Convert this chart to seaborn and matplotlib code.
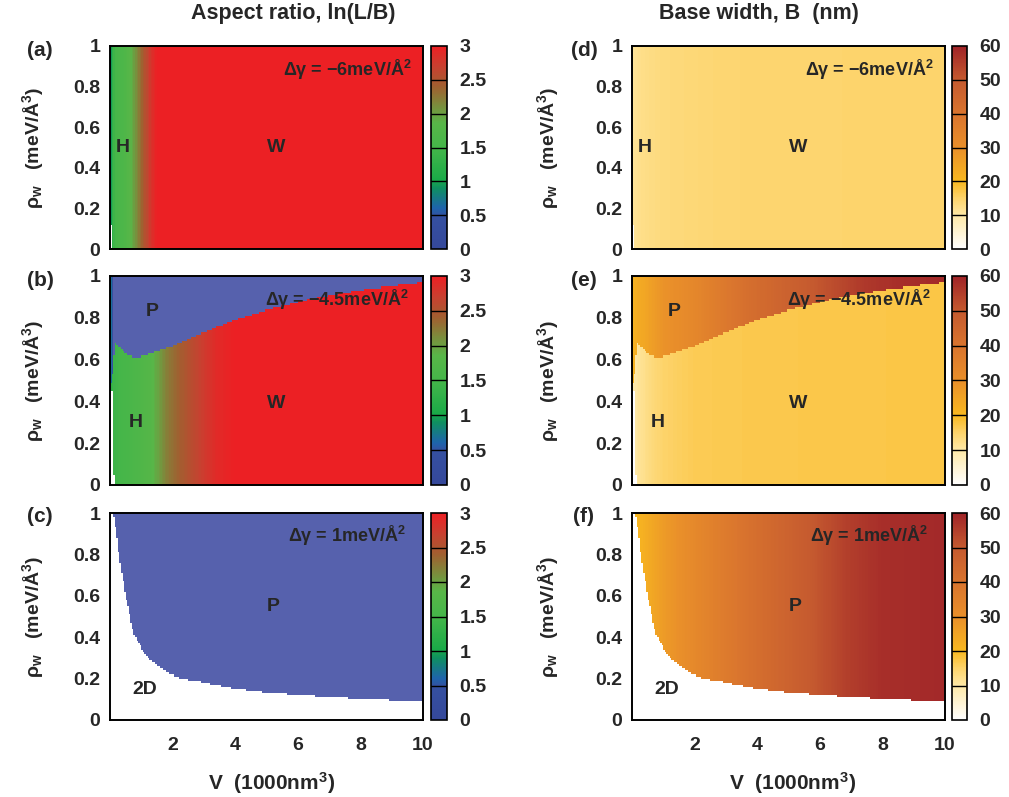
import numpy as np
import pandas as pd
import matplotlib
matplotlib.use("Agg")
import matplotlib.pyplot as plt
import seaborn as sns
from matplotlib.colors import LinearSegmentedColormap

sns.set_style("white")
plt.rcParams["font.family"] = ["Liberation Sans", "DejaVu Sans"]
plt.rcParams["font.weight"] = "bold"
plt.rcParams["mathtext.fontset"] = "custom"
plt.rcParams["mathtext.rm"] = "Liberation Sans"
plt.rcParams["mathtext.it"] = "Liberation Sans"
plt.rcParams["mathtext.bf"] = "Liberation Sans:bold"

# ---------------- data ----------------
# (a) aspect ratio vs V, dgamma = -6
V_A = [0.0, 0.05, 0.15, 0.3, 0.5, 0.7, 0.9, 1.1, 1.3, 1.5, 10.0]
AR_A = [0.7, 1.2, 1.5, 1.6, 1.7, 1.9, 2.2, 2.5, 2.8, 3.0, 3.0]
# (b) aspect ratio (H/W region) vs V, dgamma = -4.5
V_B = [0.0, 0.1, 0.3, 0.7, 1.0, 1.3, 1.8, 2.3, 2.9, 3.4, 4.0, 10.0]
AR_B = [1.2, 1.4, 1.5, 1.6, 1.7, 1.8, 2.2, 2.45, 2.7, 2.9, 3.0, 3.0]
# P-region boundary for dgamma = -4.5 (P above)
V_PB = [0.0, 0.1, 0.15, 0.3, 0.5, 0.75, 1.0, 1.5, 2.0, 3.0, 4.0, 5.0, 6.0, 7.0, 8.0, 9.0, 10.0]
RHO_PB = [0.47, 0.55, 0.68, 0.66, 0.63, 0.61, 0.615, 0.64, 0.665, 0.73, 0.79, 0.837, 0.875, 0.907, 0.933, 0.952, 0.968]
# aspect ratio inside P region near V=0 (else P value is 0)
V_PLEFT = [0.0, 0.1, 0.15]
AR_PLEFT = [0.8, 0.3, -0.5]
# 2D/P boundary for dgamma = 1 (P above)
V_PC = [0.1, 0.2, 0.3, 0.5, 0.75, 1.0, 1.3, 1.8, 2.3, 2.9, 3.9, 5.0, 6.1, 7.1, 8.2, 9.3, 10.0]
RHO_PC = [1.0, 0.91, 0.78, 0.6, 0.42, 0.35, 0.29, 0.233, 0.2, 0.185, 0.154, 0.132, 0.12, 0.109, 0.1, 0.092, 0.092]
# (d) base width vs V, dgamma = -6
V_D = [0.0, 0.3, 1.0, 3.0, 10.0]
B_D = [11.0, 12.5, 13.5, 14.5, 15.0]
# (e) base width, H/W region and P region
V_EW = [0.0, 0.2, 0.5, 1.0, 2.0, 4.0, 10.0]
B_EW = [9.0, 11.0, 13.0, 15.0, 16.5, 17.0, 17.5]
V_EP = [0.0, 0.2, 1.0, 2.0, 3.7, 5.8, 7.4, 8.5, 10.0]
B_EP = [21.0, 23.0, 29.0, 33.0, 42.0, 50.0, 56.0, 58.0, 59.0]
# (f) base width, P region, dgamma = 1
V_FP = [0.1, 1.0, 2.1, 3.7, 5.3, 6.9, 8.0, 10.0]
B_FP = [20.0, 27.0, 33.0, 41.0, 48.0, 55.0, 58.0, 59.0]

X_TICKS = [2, 4, 6, 8, 10]
Y_TICKS = [0, 0.2, 0.4, 0.6, 0.8, 1.0]
Y_TICKLABELS = ["0", "0.2", "0.4", "0.6", "0.8", "1"]
AR_TICKS = [0, 0.5, 1, 1.5, 2, 2.5, 3]
AR_TICKLABELS = ["0", "0.5", "1", "1.5", "2", "2.5", "3"]
B_TICKS = [0, 10, 20, 30, 40, 50, 60]
DGAMMA = ["\u22126", "\u22124.5", "1"]

# ---------------- grid ----------------
NX, NY = 200, 100
v_cells = (np.arange(NX) + 0.5) * 10.0 / NX
r_cells = (np.arange(NY) + 0.5) * 1.0 / NY
VV, RR = np.meshgrid(v_cells, r_cells)

mask_a = (VV < 0.06) & (RR < 0.12)
mask_b = ((VV < 0.12) & (RR < 0.45)) | ((VV < 0.17) & (RR < 0.05))
p_b = RR > np.interp(VV, V_PB, RHO_PB)
mask_c = RR < np.interp(VV, V_PC, RHO_PC)

f_a = np.interp(VV, V_A, AR_A)
f_b = np.where(p_b, np.interp(VV, V_PLEFT, AR_PLEFT), np.interp(VV, V_B, AR_B))
f_c = np.full(VV.shape, -1.0)
f_d = np.interp(VV, V_D, B_D)
f_e = np.where(p_b, np.interp(VV, V_EP, B_EP), np.interp(VV, V_EW, B_EW))
f_f = np.interp(VV, V_FP, B_FP)

cmap_ar = LinearSegmentedColormap.from_list("ar", [
    (0.0, "#35489b"), (0.16, "#3550a0"), (0.2, "#1e64ac"), (0.3, "#0f9060"),
    (0.34, "#1aaa48"), (0.5, "#45b649"), (0.62, "#58b648"), (0.68, "#709a40"),
    (0.8, "#a06030"), (0.9, "#c84030"), (1.0, "#ec2024")])
cmap_ar.set_under("#5661ad")
cmap_b = LinearSegmentedColormap.from_list("bw", [
    (0.0, "#ffffff"), (0.167, "#fee8a6"), (0.25, "#fdd36a"), (0.333, "#f8b820"),
    (0.5, "#e98f2a"), (0.667, "#d9742e"), (0.833, "#c55a2f"), (1.0, "#a02428")])

W, H = 1009, 797
fig = plt.figure(figsize=(W / 100, H / 100), dpi=100)


def rect(x0, y0, x1, y1):
    return [x0 / W, 1 - y1 / H, (x1 - x0) / W, (y1 - y0) / H]


rows = [(46, 249), (276, 485), (513, 720)]
cols = [(110, 423, 431, 447), (632, 945, 952, 967)]
ylab_x = [46, 561]
xlab_x = [272, 793]
fields = [[f_a, f_b, f_c], [f_d, f_e, f_f]]
masks = [mask_a, mask_b, mask_c]
labels = [["(a)", "(b)", "(c)"], ["(d)", "(e)", "(f)"]]
regions = [
    [[("H", 0.42, 0.5), ("W", 5.3, 0.5)],
     [("P", 1.34, 0.83), ("H", 0.83, 0.3), ("W", 5.3, 0.39)],
     [("P", 5.2, 0.55), ("2D", 1.1, 0.145)]],
] * 2
dg_pos = [(0.965, 0.88), (0.955, 0.885), (0.945, 0.89)]
FS = 14

for ci, (x0, x1, cx0, cx1) in enumerate(cols):
    for ri, (y0, y1) in enumerate(rows):
        ax = fig.add_axes(rect(x0, y0, x1, y1))
        cax = fig.add_axes(rect(cx0, y0, cx1, y1))
        if ci == 0:
            cmap, vmin, vmax, ticks, tlabels = cmap_ar, 0, 3, AR_TICKS, AR_TICKLABELS
        else:
            cmap, vmin, vmax, ticks, tlabels = cmap_b, 0, 60, B_TICKS, [str(t) for t in B_TICKS]
        sns.heatmap(pd.DataFrame(fields[ci][ri]), mask=masks[ri], cmap=cmap,
                    vmin=vmin, vmax=vmax, ax=ax, cbar_ax=cax,
                    xticklabels=False, yticklabels=False,
                    cbar_kws={"ticks": ticks})
        ax.set_xlim(0, NX)
        ax.set_ylim(0, NY)
        for sp in ax.spines.values():
            sp.set_visible(True)
            sp.set_linewidth(1.4)
            sp.set_color("black")
        ax.set_yticks([t * NY for t in Y_TICKS])
        ax.set_yticklabels(Y_TICKLABELS, fontsize=FS, fontweight="bold")
        if ri == 2:
            ax.set_xticks([t / 10 * NX for t in X_TICKS])
            ax.set_xticklabels([str(t) for t in X_TICKS], fontsize=FS, fontweight="bold")
            ax.set_xlabel("V  (1000nm$^{\\mathbf{3}}$)", fontsize=15, fontweight="bold")
            ax.xaxis.set_label_coords((xlab_x[ci] - x0) / (x1 - x0), (y1 - 770) / (y1 - y0))
        else:
            ax.set_xticks([])
        ax.tick_params(axis="y", length=0, pad=7)
        ax.tick_params(axis="x", length=0, pad=12)
        ax.set_ylabel("$\\rho_{\\mathbf{w}}$   (meV/Å$^{\\mathbf{3}}$)", fontsize=FS,
                      fontweight="bold")
        ax.yaxis.set_label_coords((ylab_x[ci] - x0) / (x1 - x0), 0.5)
        cb = ax.collections[0].colorbar
        cb.set_ticks(ticks)
        cb.set_ticklabels(tlabels)
        cb.outline.set_linewidth(1.2)
        cb.outline.set_edgecolor("black")
        for t in ticks[1:-1]:
            cax.axhline(t, color="black", lw=1.0)
        cax.tick_params(length=0, pad=9, labelsize=FS)
        for lab in cax.get_yticklabels():
            lab.set_fontweight("bold")
        # annotations
        dx, dy = dg_pos[ri]
        ax.text(dx, dy, "Δγ = %smeV/Å$^{\\mathbf{2}}$" % DGAMMA[ri], transform=ax.transAxes,
                ha="right", va="center", fontsize=13, fontweight="bold")
        for txt, vx, ry in regions[ci][ri]:
            ax.text(vx / 10 * NX, ry * NY, txt, ha="center", va="center",
                    fontsize=FS, fontweight="bold")
        fig.text((40 if ci == 0 else 584) / W, 1 - (y0 + 4) / H, labels[ci][ri],
                 ha="center", va="center", fontsize=15, fontweight="bold")

fig.text(293 / W, 1 - 14 / H, "Aspect ratio, ln(L/B)", ha="center", va="center",
         fontsize=15.5, fontweight="bold")
fig.text(759 / W, 1 - 14 / H, "Base width, B  (nm)", ha="center", va="center",
         fontsize=15.5, fontweight="bold")

fig.savefig("out.png", dpi=100)
